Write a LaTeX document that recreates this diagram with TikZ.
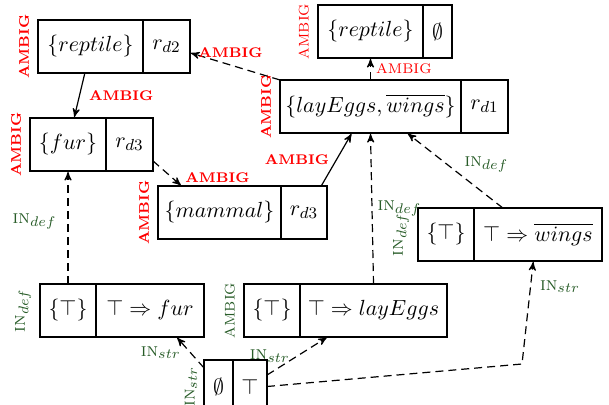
\documentclass[tikz,border=0pt]{standalone}
\usetikzlibrary{
  arrows,
  positioning
}
\definecolor{ingreen}{RGB}{40,92,40}

\begin{document}
\begin{tikzpicture}[x=0.5pt, y=-0.5pt,
      cell/.style={
         rectangle,
         draw=black,
         semithick,
         outer sep=0pt,
         inner xsep=2pt,
         minimum height=26.5pt,
         font=\fontsize{11}{13}\selectfont
      },
      ambig/.style={
         text=red,
         inner sep=1.5pt,
         font=\fontsize{7}{8}\selectfont\bfseries
      },
      ambiglight/.style={
         text=red,
         inner sep=1.5pt,
         font=\fontsize{7}{8}\selectfont
      },
      inlabel/.style={
         text=ingreen,
         inner sep=1.5pt,
         font=\fontsize{9.5}{11}\selectfont
      },
      side/.style={rotate=90, anchor=south, outer sep=3pt},
      >=stealth', semithick,
      tip/.style={->, shorten >=0.5pt},
      dashtip/.style={->, shorten >=0.5pt, dash pattern=on 4pt off 2.5pt}
    ]
    \clip[use as bounding box] (0,0) rectangle (609,405);
    % top row
    \node (n11) [cell, minimum width=52.5pt, anchor=north west] at (38,20) {$\{reptile\}$};
    \node (n12) [cell, minimum width=23.5pt, right=0pt of n11] {$r_{d2}$};
    \node (n31) [cell, minimum width=52.5pt, anchor=north west] at (318,5) {$\{reptile\}$};
    \node (n32) [cell, minimum width=14.5pt, right=0pt of n31] {$\emptyset$};
    \node (n41) [cell, minimum width=90.5pt, anchor=north west] at (280,80) {$\{layEggs, \overline{wings}\}$};
    \node (n42) [cell, minimum width=23.5pt, right=0pt of n41] {$r_{d1}$};
    % middle
    \node (n21) [cell, minimum width=38pt, anchor=north west] at (30,118) {$\{fur\}$};
    \node (n22) [cell, minimum width=23.5pt, right=0pt of n21] {$r_{d3}$};
    \node (n51) [cell, minimum width=61.5pt, anchor=north west] at (158,186) {$\{mammal\}$};
    \node (n52) [cell, minimum width=23pt, right=0pt of n51] {$r_{d3}$};
    \node (n71) [cell, minimum width=28pt, anchor=north west] at (418,208) {$\{\top\}$};
    \node (n72) [cell, minimum width=64pt, right=0pt of n71] {$\top \Rightarrow \overline{wings}$};
    % bottom row
    \node (n61) [cell, minimum width=28pt, anchor=north west] at (40,284) {$\{\top\}$};
    \node (n62) [cell, minimum width=54pt, right=0pt of n61] {$\top \Rightarrow fur$};
    \node (n81) [cell, minimum width=28pt, anchor=north west] at (244,284) {$\{\top\}$};
    \node (n82) [cell, minimum width=73.5pt, right=0pt of n81] {$\top \Rightarrow layEggs$};
    \node (n91) [cell, minimum width=14.5pt, anchor=north west] at (204,360) {$\emptyset$};
    \node (n92) [cell, minimum width=17pt, right=0pt of n91] {$\top$};
    \coordinate (k1) at (522,364);

    % side labels
    \node [ambig, side] at (n11.west) {AMBIG};
    \node [ambiglight, side] at (n31.west) {AMBIG};
    \node [ambig, side] at (n41.west) {AMBIG};
    \node [ambig, side] at (n21.west) {AMBIG};
    \node [ambig, side] at (n51.west) {AMBIG};
    \node [inlabel, side] at (n71.west) {\textsc{in}$_{def}$};
    \node [inlabel, side] at (n61.west) {\textsc{in}$_{def}$};
    \node [inlabel, side, font=\fontsize{7}{8}\selectfont] at (n81.west) {AMBIG};
    \node [inlabel, side, outer sep=2pt] at (n91.west) {\textsc{in}$_{str}$};

    % connectors
    \draw [tip] (n11.258) -- node[ambig, midway, right=3pt] {AMBIG} (n21.77);
    \draw [dashtip] (n41.north west) -- node[ambig, pos=0.55, above=2pt] {AMBIG} (n12.-15);
    \draw [dashtip] (n41.north) -- node[ambiglight, midway, right=1pt] {AMBIG} (n31.south);
    \draw [dashtip] (n22.-35) -- node[ambig, at end, anchor=south west] {AMBIG} (n51.145);
    \draw [tip] (n52.57) -- node[ambig, midway, left=2pt] {AMBIG} (n41.235);
    \draw [dashtip] (n82.north) -- node[inlabel, midway, right=1pt] {\textsc{in}$_{def}$} (n41.south);
    \draw [dashtip] (n72.143) -- node[inlabel, midway, right=3pt, yshift=3pt] {\textsc{in}$_{def}$} (n41.-36);
    \draw [dashtip] (n61.north) -- node[inlabel, midway, left=4pt, yshift=3pt] {\textsc{in}$_{def}$} (n21.south);
    \draw [dashtip] (n91.128) -- node[inlabel, midway, left=3pt] {\textsc{in}$_{str}$} (n62.-45);
    \draw [dashtip] (n92.34) -- node[inlabel, midway, left=2pt] {\textsc{in}$_{str}$} (n82.210);
    \draw [dashtip] (n92.east) -- (k1) -- node[inlabel, pos=0.75, right=3pt] {\textsc{in}$_{str}$} (n72.260);
\end{tikzpicture}
\end{document}
